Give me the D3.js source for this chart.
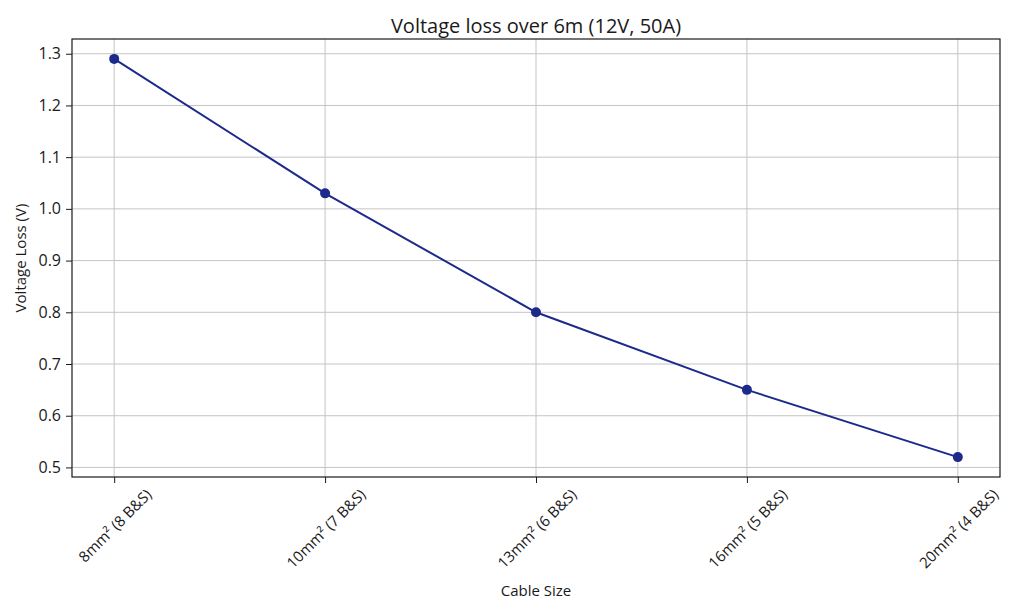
<!DOCTYPE html>
<html><head><meta charset="utf-8">
<script src="https://cdn.jsdelivr.net/npm/d3@7"></script>
<style>body{margin:0;background:#fff;} text{font-family:"Open Sans","Inter",sans-serif;fill:#1a1a1a;}</style>
</head><body>
<svg id="c" width="1024" height="614"></svg>
<script>
const categories = ["8mm² (8 B&S)","10mm² (7 B&S)","13mm² (6 B&S)","16mm² (5 B&S)","20mm² (4 B&S)"];
const voltageLoss = [1.29, 1.03, 0.80, 0.65, 0.52];
const yTicks = [0.5,0.6,0.7,0.8,0.9,1.0,1.1,1.2,1.3];

const svg = d3.select("#c");
const L=72, R=1000, T=39, B=477;
const x = d3.scaleLinear().domain([-0.2, categories.length-1+0.2]).range([L,R]);
const y = d3.scaleLinear().domain([0.4815,1.3285]).range([B,T]);

const g = svg.append("g");
g.selectAll(".gy").data(yTicks).enter().append("line")
 .attr("x1",L).attr("x2",R).attr("y1",d=>y(d)).attr("y2",d=>y(d))
 .attr("stroke","#c4c4c4").attr("stroke-width",1);
g.selectAll(".gx").data(categories).enter().append("line")
 .attr("x1",(d,i)=>x(i)).attr("x2",(d,i)=>x(i)).attr("y1",T).attr("y2",B)
 .attr("stroke","#c4c4c4").attr("stroke-width",1);

const ya = svg.append("g").attr("transform",`translate(${L},0)`)
 .call(d3.axisLeft(y).tickValues(yTicks).tickFormat(d3.format(".1f")).tickSizeOuter(0).tickSize(6).tickPadding(5));
ya.select(".domain").remove();
ya.selectAll("text").style("font-size","16px");
const xa = svg.append("g").attr("transform",`translate(0,${B})`)
 .call(d3.axisBottom(x).tickValues(d3.range(categories.length)).tickFormat(i=>categories[i]).tickSizeOuter(0).tickSize(6));
xa.select(".domain").remove();
xa.selectAll("text").style("font-size","15px").attr("text-anchor","middle")
 .attr("dy","0").attr("y",0).attr("dominant-baseline","central")
 .each(function(){
   const w = this.getComputedTextLength();
   const h = 15;
   const half = (w+h)/(2*Math.SQRT2);
   d3.select(this).attr("transform",`translate(0,${9+half}) rotate(-45)`);
 });
svg.selectAll(".tick line").attr("stroke","#1a1a1a");

svg.append("rect").attr("x",L).attr("y",T).attr("width",R-L).attr("height",B-T)
 .attr("fill","none").attr("stroke","#1a1a1a").attr("stroke-width",1.2);

const line = d3.line().x((d,i)=>x(i)).y(d=>y(d));
svg.append("path").datum(voltageLoss).attr("d",line).attr("fill","none")
 .attr("stroke","#1c2a8c").attr("stroke-width",2);
svg.selectAll(".pt").data(voltageLoss).enter().append("circle")
 .attr("cx",(d,i)=>x(i)).attr("cy",d=>y(d)).attr("r",5).attr("fill","#1c2a8c");

svg.append("text").attr("x",(L+R)/2).attr("y",33).attr("text-anchor","middle")
 .style("font-size","20px").text("Voltage loss over 6m (12V, 50A)");
svg.append("text").attr("x",(L+R)/2).attr("y",596).attr("text-anchor","middle")
 .style("font-size","15px").text("Cable Size");
svg.append("text").attr("transform",`translate(26,${(T+B)/2}) rotate(-90)`).attr("text-anchor","middle")
 .style("font-size","15px").text("Voltage Loss (V)");
</script>
</body></html>
